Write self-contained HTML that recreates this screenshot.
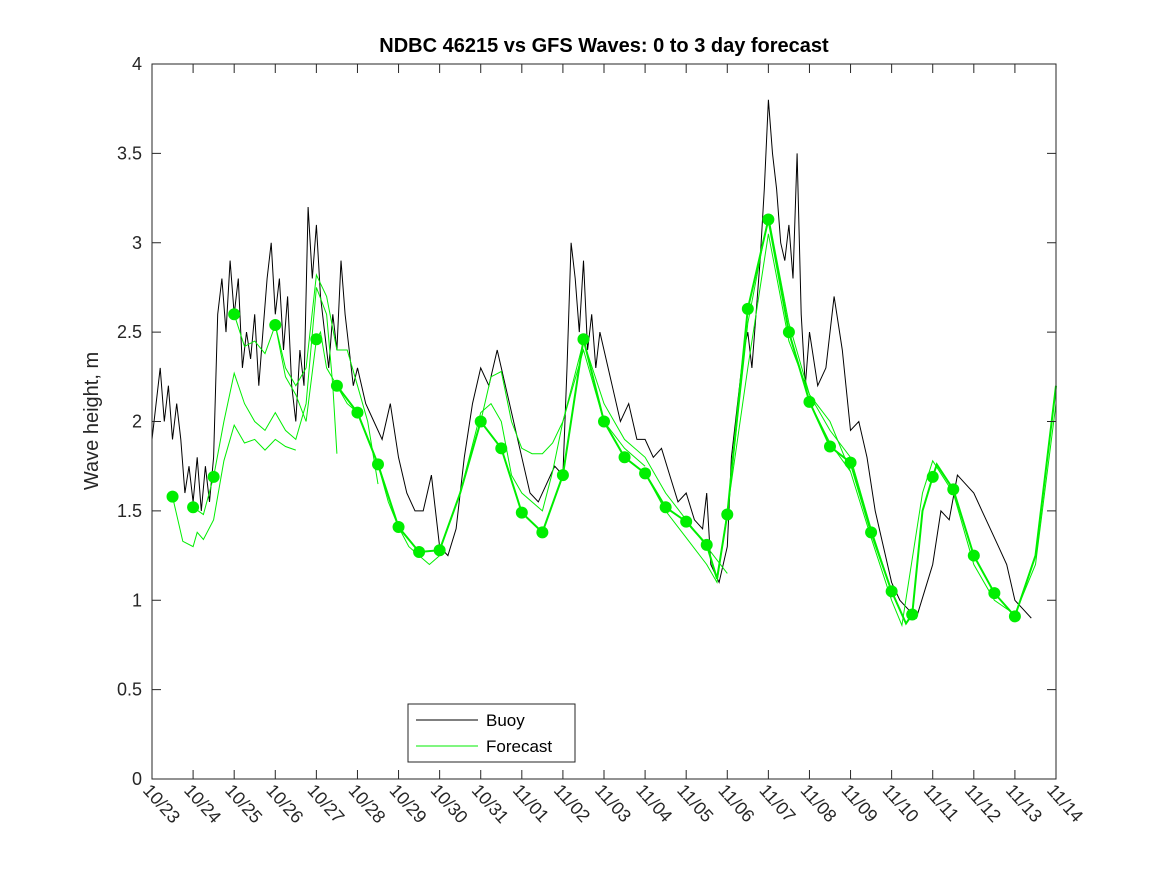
<!DOCTYPE html>
<html><head><meta charset="utf-8"><style>
body{margin:0;background:#fff;}
svg{font-family:"Liberation Sans",sans-serif;}
</style></head><body>
<svg id="chart" width="1167" height="875" viewBox="0 0 1167 875" xmlns="http://www.w3.org/2000/svg">
<rect width="1167" height="875" fill="#fff"/>
<text x="604" y="52" text-anchor="middle" font-size="20" font-weight="bold">NDBC 46215 vs GFS Waves: 0 to 3 day forecast</text>
<text transform="translate(98,421) rotate(-90)" text-anchor="middle" font-size="20" fill="#262626">Wave height, m</text>
<g id="series"></g>
<rect x="152" y="64" width="904" height="715" fill="none" stroke="#262626" stroke-width="1"/>
<g id="ticks"></g>
<g>
<rect x="408" y="704" width="167" height="58" fill="#fff" stroke="#262626"/>
<line x1="416" y1="720" x2="478" y2="720" stroke="#000" stroke-width="1"/>
<text x="486" y="726" font-size="17">Buoy</text>
<line x1="416" y1="746" x2="478" y2="746" stroke="#00ee00" stroke-width="1"/>
<text x="486" y="752" font-size="17">Forecast</text>
</g>
</svg>
<script>
const xTickLabels=["10/23","10/24","10/25","10/26","10/27","10/28","10/29","10/30","10/31","11/01","11/02","11/03","11/04","11/05","11/06","11/07","11/08","11/09","11/10","11/11","11/12","11/13","11/14"];
const yTicks=[0,0.5,1,1.5,2,2.5,3,3.5,4];
const yTickLabels=["0","0.5","1","1.5","2","2.5","3","3.5","4"];
const buoyDays=[0,0.1,0.2,0.3,0.4,0.5,0.6,0.7,0.8,0.9,1.0,1.1,1.2,1.3,1.4,1.5,1.6,1.7,1.8,1.9,2.0,2.1,2.2,2.3,2.4,2.5,2.6,2.7,2.8,2.9,3.0,3.1,3.2,3.3,3.4,3.5,3.6,3.7,3.8,3.9,4.0,4.1,4.2,4.3,4.4,4.5,4.6,4.7,4.8,4.9,5.0,5.2,5.4,5.6,5.8,6.0,6.2,6.4,6.6,6.8,7.0,7.2,7.4,7.6,7.8,8.0,8.2,8.4,8.6,8.8,9.0,9.2,9.4,9.6,9.8,10.0,10.1,10.2,10.3,10.4,10.5,10.6,10.7,10.8,10.9,11.0,11.2,11.4,11.6,11.8,12.0,12.2,12.4,12.6,12.8,13.0,13.2,13.4,13.5,13.6,13.8,14.0,14.1,14.2,14.3,14.4,14.5,14.6,14.7,14.8,14.9,15.0,15.1,15.2,15.3,15.4,15.5,15.6,15.7,15.8,15.9,16.0,16.2,16.4,16.6,16.8,17.0,17.2,17.4,17.6,17.8,18.0,18.2,18.4,18.6,18.8,19.0,19.2,19.4,19.6,19.8,20.0,20.2,20.4,20.6,20.8,21.0,21.2,21.4];
const buoyVals=[1.9,2.1,2.3,2.0,2.2,1.9,2.1,1.9,1.6,1.75,1.55,1.8,1.5,1.75,1.55,1.8,2.6,2.8,2.5,2.9,2.6,2.8,2.3,2.5,2.35,2.6,2.2,2.5,2.8,3.0,2.6,2.8,2.4,2.7,2.2,2.0,2.4,2.2,3.2,2.8,3.1,2.7,2.5,2.3,2.6,2.4,2.9,2.6,2.4,2.2,2.3,2.1,2.0,1.9,2.1,1.8,1.6,1.5,1.5,1.7,1.3,1.25,1.4,1.8,2.1,2.3,2.2,2.4,2.2,2.0,1.8,1.6,1.55,1.65,1.75,1.7,2.3,3.0,2.8,2.5,2.9,2.4,2.6,2.3,2.5,2.4,2.2,2.0,2.1,1.9,1.9,1.8,1.85,1.7,1.55,1.6,1.45,1.4,1.6,1.2,1.1,1.3,1.8,2.0,2.2,2.4,2.5,2.3,2.6,2.9,3.3,3.8,3.5,3.3,3.0,2.9,3.1,2.8,3.5,2.6,2.2,2.5,2.2,2.3,2.7,2.4,1.95,2.0,1.8,1.5,1.3,1.1,1.0,0.95,0.9,1.05,1.2,1.5,1.45,1.7,1.65,1.6,1.5,1.4,1.3,1.2,1.0,0.95,0.9,0.95];
const dotDays=[0.5,1,1.5,2,3,4,4.5,5,5.5,6,6.5,7,8,8.5,9,9.5,10,10.5,11,11.5,12,12.5,13,13.5,14,14.5,15,15.5,16,16.5,17,17.5,18,18.5,19,19.5,20,20.5,21];
const dotVals=[1.58,1.52,1.69,2.6,2.54,2.46,2.2,2.05,1.76,1.41,1.27,1.28,2.0,1.85,1.49,1.38,1.70,2.46,2.0,1.8,1.71,1.52,1.44,1.31,1.48,2.63,3.13,2.5,2.11,1.86,1.77,1.38,1.05,0.92,1.69,1.62,1.25,1.04,0.91];
const mainDays=[4.5,5,5.5,6,6.5,7,7.5,8,8.5,9,9.5,10,10.5,11,11.5,12,12.5,13,13.5,13.75,14,14.5,15,15.5,16,16.5,17,17.5,18,18.35,18.5,18.75,19,19.1,19.5,20,20.5,21,21.5,22];
const mainVals=[2.2,2.05,1.76,1.41,1.27,1.28,1.6,2.0,1.85,1.49,1.38,1.70,2.46,2.0,1.8,1.71,1.52,1.44,1.31,1.12,1.48,2.63,3.13,2.5,2.11,1.86,1.77,1.38,1.05,0.87,0.92,1.5,1.69,1.76,1.62,1.25,1.04,0.91,1.25,2.2];
const run1Days=[0.5,0.75,1,1.1,1.25,1.5,1.75,2,2.25,2.5,2.75,3,3.25,3.5];
const run1Vals=[1.58,1.33,1.30,1.38,1.34,1.45,1.78,1.98,1.88,1.9,1.84,1.9,1.86,1.84];
const run2Days=[1,1.25,1.5,1.75,2,2.25,2.5,2.75,3,3.25,3.5,3.75,4,4.25,4.4,4.5];
const run2Vals=[1.52,1.48,1.69,2.0,2.27,2.1,2.0,1.95,2.05,1.95,1.9,2.1,2.75,2.6,2.2,1.82];
const run3Days=[2,2.25,2.5,2.75,3,3.25,3.5,3.75,4,4.25,4.5,4.75,5,5.25,5.5];
const run3Vals=[2.6,2.42,2.45,2.38,2.54,2.3,2.2,2.3,2.82,2.7,2.4,2.4,2.2,2.0,1.65];
const run4Days=[3,3.25,3.5,3.75,4,4.1,4.25,4.5,4.75,5,5.25,5.5,5.75,6,6.25,6.5,6.75,7];
const run4Vals=[2.54,2.25,2.15,2.0,2.46,2.5,2.3,2.2,2.1,2.05,1.9,1.76,1.55,1.41,1.3,1.25,1.2,1.25];
const run5Days=[7,7.5,8,8.25,8.5,8.75,9,9.5,9.75,10,10.5,11,11.5,12];
const run5Vals=[1.28,1.6,2.05,2.1,2.0,1.7,1.6,1.5,1.72,2.0,2.4,2.0,1.85,1.75];
const run6Days=[8,8.25,8.5,8.75,9,9.25,9.5,9.75,10,10.5,11,11.5,12,12.5,13,13.5,14];
const run6Vals=[2.0,2.25,2.28,2.0,1.85,1.82,1.82,1.88,2.0,2.45,2.1,1.9,1.8,1.6,1.45,1.3,1.15];
const run7Days=[12,12.5,13,13.5,13.75,14,14.5,15,15.5,16,16.5,17];
const run7Vals=[1.71,1.5,1.35,1.2,1.1,1.5,2.3,3.05,2.45,2.15,2.0,1.72];
const run8Days=[16,16.5,17,17.5,18,18.25,18.75,19,19.5,20,20.5,21,21.5,22];
const run8Vals=[2.11,1.88,1.72,1.35,1.0,0.86,1.6,1.78,1.6,1.2,1.0,0.92,1.2,2.1];
const run9Days=[14,14.5,15,15.5,16,16.5,17,17.5,18];
const run9Vals=[1.48,2.55,3.15,2.55,2.15,1.95,1.8,1.4,1.05];

const X0=152,X1=1056,Y0=779,Y1=64;
const xs=d=>X0+d*(X1-X0)/22;
const ys=v=>Y0-v*(Y0-Y1)/4;
const NS="http://www.w3.org/2000/svg";
const ticks=document.getElementById('ticks');
const ser=document.getElementById('series');
function mk(tag,attrs,parent){const e=document.createElementNS(NS,tag);for(const k in attrs)e.setAttribute(k,attrs[k]);parent.appendChild(e);return e;}
xTickLabels.forEach((t,i)=>{
  const x=xs(i);
  const l1=mk('line',{x1:x,y1:Y0,x2:x,y2:Y0-9,stroke:'#262626'},ticks);
  
  
  const l2=mk('line',{x1:x,y1:Y1,x2:x,y2:Y1+9,stroke:'#262626'},ticks);
  
  
  const tx=mk('text',{x:0,y:0,'font-size':18,fill:'#262626',transform:`translate(${x-10},${Y0+12}) rotate(48)`},ticks);
  tx.textContent=t;
  
  
});
yTicks.forEach((v,i)=>{
  const y=ys(v);
  const l1=mk('line',{x1:X0,y1:y,x2:X0+9,y2:y,stroke:'#262626'},ticks);
  
  
  const l2=mk('line',{x1:X1,y1:y,x2:X1-9,y2:y,stroke:'#262626'},ticks);
  
  
  const tx=mk('text',{x:X0-10,y:y+6,'font-size':18,fill:'#262626','text-anchor':'end'},ticks);
  tx.textContent=yTickLabels[i];
  
  
});
function pts(d,v){return d.map((x,i)=>xs(x).toFixed(1)+','+ys(v[i]).toFixed(1)).join(' ');}
const runs=[[run1Days,run1Vals],[run2Days,run2Vals],[run3Days,run3Vals],[run4Days,run4Vals],[run5Days,run5Vals],[run6Days,run6Vals],[run7Days,run7Vals],[run8Days,run8Vals],[run9Days,run9Vals]];
const bl=mk('polyline',{points:pts(buoyDays,buoyVals),fill:'none',stroke:'#000','stroke-width':1},ser);


runs.forEach(r=>{
  const p=mk('polyline',{points:pts(r[0],r[1]),fill:'none',stroke:'#00ee00','stroke-width':1},ser);
  
  
});
const ml=mk('polyline',{points:pts(mainDays,mainVals),fill:'none',stroke:'#00ee00','stroke-width':2},ser);


dotDays.forEach((d,i)=>{
  const c=mk('circle',{cx:xs(d),cy:ys(dotVals[i]),r:6,fill:'#00ee00'},ser);
  
  
});
</script>
</body></html>
